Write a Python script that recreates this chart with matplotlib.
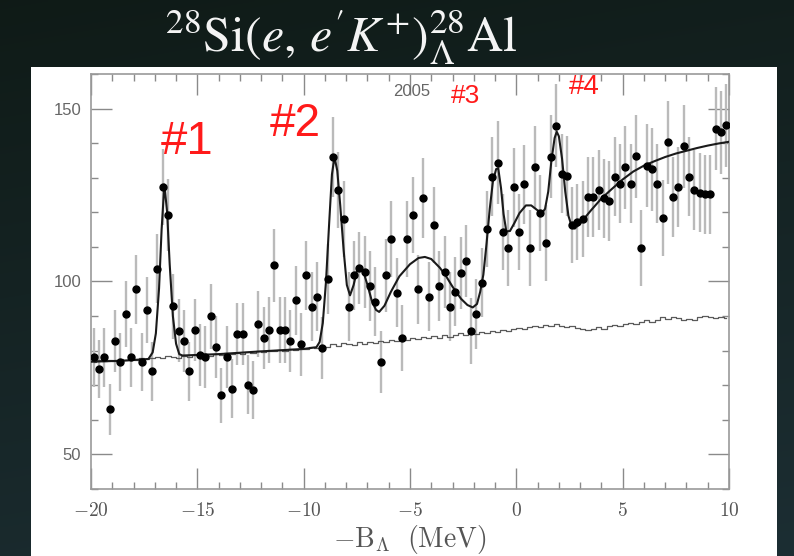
import numpy as np
import matplotlib.pyplot as plt
from matplotlib.patches import Rectangle
from matplotlib.ticker import MultipleLocator

# 28Si(e,e'K+) missing-mass spectrum, 0.25 MeV bins from -20 to 10 MeV
bin_lo, bin_hi, bin_w = -20.0, 10.0, 0.25

counts = [
    78.1, 74.7, 78.1, 63.0, 82.7, 76.7, 90.7, 78.1, 97.8, 76.7,
    91.8, 74.0, 103.7, 127.4, 119.2, 92.8, 85.8, 82.7, 74.0, 85.9,
    78.8, 78.1, 89.9, 81.0, 67.1, 78.1, 69.0, 84.8, 84.8, 70.2,
    68.6, 87.7, 83.7, 85.9, 104.7, 85.9, 85.9, 82.9, 94.6, 81.8,
    101.8, 92.7, 95.6, 80.8, 100.7, 136.0, 126.4, 118.2, 92.7, 101.8,
    103.9, 102.8, 98.7, 94.1, 76.8, 101.8, 112.2, 96.8, 83.7, 112.4,
    119.2, 97.8, 124.2, 95.6, 116.3, 98.7, 102.8, 92.7, 97.0, 102.5,
    105.9, 85.7, 90.6, 99.7, 115.1, 130.3, 134.4, 114.4, 109.7, 127.2,
    114.4, 128.1, 109.8, 133.1, 119.7, 111.0, 136.0, 145.0, 131.2, 130.5,
    116.3, 117.2, 118.2, 124.5, 124.5, 126.4, 124.0, 123.2, 130.3, 128.3,
    133.1, 128.3, 136.2, 109.8, 133.4, 132.5, 128.3, 118.4, 140.2, 124.5,
    127.4, 139.1, 130.3, 126.4, 125.7, 125.2, 125.2, 144.2, 143.1, 145.2,
]

errors = [
    8.5, 8.5, 8.5, 7.5, 9, 8.5, 9.5, 8.5, 10, 8.5,
    9.5, 8.5, 10, 11, 10.5, 9.5, 9, 9, 8.5, 9,
    9, 9, 9.5, 9, 8, 9, 8.5, 9, 9, 8.5,
    8.5, 9.5, 9, 9.5, 10.5, 9.5, 9.5, 9, 10, 9,
    10, 10, 10, 9, 10, 11.5, 11, 11, 10, 10,
    10.5, 10.5, 10, 10, 9, 10.5, 11, 10, 9.5, 11,
    11, 10, 11.5, 10, 11, 10, 10.5, 10, 10, 10.5,
    10.5, 9.5, 10, 10, 11, 11.5, 12, 11, 11, 11.5,
    11, 11.5, 11, 12, 11, 11, 12, 12, 11.5, 11.5,
    11, 11, 11, 11.5, 11.5, 11.5, 11.5, 11.5, 11.5, 11.5,
    12, 11.5, 12, 11, 12, 12, 11.5, 11, 12, 11.5,
    11.5, 12, 11.5, 11.5, 11.5, 11.5, 11.5, 12, 12, 12,
]

# accidental background (mixed events)
background = [
    76.8, 77.2, 76.9, 77.3, 77.0, 77.5, 77.2, 77.6, 77.4, 77.9, 77.6, 78.0,
    78.3, 77.9, 78.6, 78.2, 78.0, 78.4, 78.2, 78.7, 78.5, 78.9, 78.6, 79.0,
    78.8, 79.2, 79.0, 79.4, 79.1, 79.6, 79.3, 79.8, 79.5, 80.0, 79.8, 80.2,
    80.0, 80.4, 80.2, 80.6,
    80.6, 81.0, 80.7, 81.4, 81.1, 81.8, 81.4, 82.2, 82.0, 81.5,
    82.4, 82.0, 82.6, 82.2, 82.8, 82.4, 83.2, 82.8, 83.6, 83.2,
    83.8, 83.4, 84.0, 83.6, 84.2, 83.8, 84.4, 84.0, 84.6, 85.0,
    84.4, 85.2, 84.8, 85.4, 85.0, 85.8, 85.4, 86.0, 85.6, 86.2,
    86.6, 86.2, 86.8, 87.2, 86.8, 87.4, 87.0, 87.6, 87.2, 86.8,
    87.2, 86.6, 86.4, 86.0, 86.4, 86.8, 86.4, 87.0, 87.4, 87.0,
    87.6, 88.0, 87.6, 88.4, 88.8, 88.4, 89.0, 89.6, 89.2, 89.8,
    89.4, 88.8, 89.2, 89.0, 89.6, 90.0, 89.6, 89.4, 89.8, 89.5,
]

# fitted spectrum
fit_x = [
    -20.0, -18.5, -17.3, -17.1, -16.95, -16.8, -16.68, -16.55, -16.42, -16.3,
    -16.15, -16.0, -15.85, -15.7, -14.0, -12.0, -10.0, -9.4, -9.25, -9.1,
    -8.95, -8.8, -8.67, -8.55, -8.42, -8.28, -8.12, -7.97, -7.82, -7.65,
    -7.5, -7.35, -7.2, -7.0, -6.8, -6.6, -6.45, -6.2, -5.9, -5.5,
    -5.0, -4.6, -4.3, -4.0, -3.6, -3.3, -3.0, -2.6, -2.3, -2.05,
    -1.85, -1.7, -1.55, -1.4, -1.25, -1.1, -0.95, -0.85, -0.72, -0.6,
    -0.47, -0.3, -0.1, 0.15, 0.45, 0.7, 0.95, 1.2, 1.35, 1.5,
    1.65, 1.8, 1.9, 2.0, 2.15, 2.3, 2.45, 2.6, 2.75, 3.0,
    3.5, 4.0, 4.5, 5.0, 5.5, 6.0, 6.5, 7.0, 7.5, 8.0,
    8.5, 9.0, 9.5, 10.0,
]
fit_y = [
    76.8, 77.1, 77.6, 79.5, 85.0, 98.0, 115.0, 128.0, 120.0, 105.0,
    90.0, 82.0, 79.0, 78.6, 79.0, 79.8, 80.5, 81.0, 82.5, 88.0,
    100.0, 117.0, 131.0, 136.0, 132.0, 122.0, 109.0, 99.0, 96.0, 99.0,
    103.0, 104.3, 103.0, 99.0, 94.5, 91.8, 91.2, 93.0, 97.0, 101.5,
    105.0, 106.8, 107.1, 106.5, 104.0, 101.5, 98.5, 95.0, 93.2, 92.5,
    93.5, 97.0, 102.0, 111.0, 121.0, 129.0, 132.5, 132.7, 127.0, 119.5,
    114.5, 114.6, 116.8, 119.8, 122.0, 122.0, 120.8, 119.7, 121.0, 126.0,
    135.0, 141.5, 143.3, 142.0, 135.5, 126.0, 119.0, 116.0, 115.3, 116.8,
    120.5, 124.0, 126.8, 129.5, 131.8, 133.5, 134.8, 136.0, 137.0, 137.8,
    138.6, 139.3, 139.9, 140.4,
]

peak_names = ["#1", "#2", "#3", "#4"]
peak_x = [-15.5, -10.4, -2.4, 3.2]
peak_y = [140.3, 145.5, 153.6, 156.1]
peak_size = [34, 33, 19, 20]

x_ticks = [-20, -15, -10, -5, 0, 5, 10]
y_ticks = [50, 100, 150]

centers = np.arange(bin_lo + bin_w / 2, bin_hi, bin_w)

W, H = 794, 556
fig = plt.figure(figsize=(W / 100, H / 100), dpi=100)

# dark slide background with white plot panel
bg = fig.add_axes([0, 0, 1, 1])
bg.axis("off")
top = np.array([0.06, 0.105, 0.09])
bot = np.array([0.11, 0.18, 0.20])
tv = np.linspace(0, 1, 200)[:, None, None]
th = np.linspace(0, 1, 200)[None, :, None]
grad = top * (1 - 0.8 * tv - 0.2 * th) + bot * (0.8 * tv + 0.2 * th)
bg.imshow(grad, aspect="auto", extent=[0, 1, 0, 1], interpolation="bilinear")
bg.add_patch(Rectangle((31 / W, 0), 746 / W, (H - 67) / H,
                       facecolor="white", edgecolor="none"))
bg.set_xlim(0, 1)
bg.set_ylim(0, 1)

fig.text(341 / W, 1 - 38 / H,
         r"${}^{28}\mathrm{Si}(e,\,e^{\prime}K^{+})^{28}_{\Lambda}\mathrm{Al}$",
         color="#f4f4f4", fontsize=36, ha="center", va="center",
         math_fontfamily="stix")

ax = fig.add_axes([91 / W, 67 / H, 638 / W, 415 / H])
ax.set_facecolor("white")

ax.errorbar(centers, counts, yerr=errors, fmt="none", ecolor="#bababa",
            elinewidth=1.7, capsize=0, zorder=2)
ax.plot(centers, background, drawstyle="steps-mid", color="#5a5a5a",
        lw=0.9, zorder=3)
ax.plot(fit_x, fit_y, color="#1a1a1a", lw=1.5, zorder=4)
ax.plot(centers, counts, "o", color="black", ms=5, zorder=5)

ax.set_xlim(bin_lo, bin_hi)
ax.set_ylim(40, 160)

ax.set_xticks(x_ticks)
ax.set_xticklabels([r"$%d$" % v for v in x_ticks], math_fontfamily="cm",
                   fontsize=14, color="#555555")
ax.set_yticks(y_ticks)
ax.set_yticklabels([str(v) for v in y_ticks], family="Liberation Sans",
                   fontsize=12, color="#666666")
ax.xaxis.set_minor_locator(MultipleLocator(1))
ax.yaxis.set_minor_locator(MultipleLocator(10))
ax.tick_params(which="both", direction="in", top=True, right=True,
               color="#8a8a8a", width=1.0)
ax.tick_params(which="major", length=15)
ax.tick_params(which="minor", length=5)
ax.tick_params(axis="x", which="major", pad=9)
ax.tick_params(axis="y", which="major", pad=7)
for sp in ax.spines.values():
    sp.set_color("#9a9a9a")
    sp.set_linewidth(1.2)

ax.set_xlabel(r"$-\mathrm{B}_{\Lambda}\ \ (\mathrm{MeV})$", math_fontfamily="cm",
              fontsize=20, color="#555555", labelpad=2)

for name, px, py, fs in zip(peak_names, peak_x, peak_y, peak_size):
    ax.text(px, py, name, color="#ff1a1a", fontsize=fs, family="Liberation Sans",
            ha="center", va="center", clip_on=False, zorder=6)
ax.text(-4.9, 154.8, "2005", color="#666666", fontsize=12,
        family="Liberation Sans", ha="center", va="center")

fig.savefig("out.png", dpi=100)
